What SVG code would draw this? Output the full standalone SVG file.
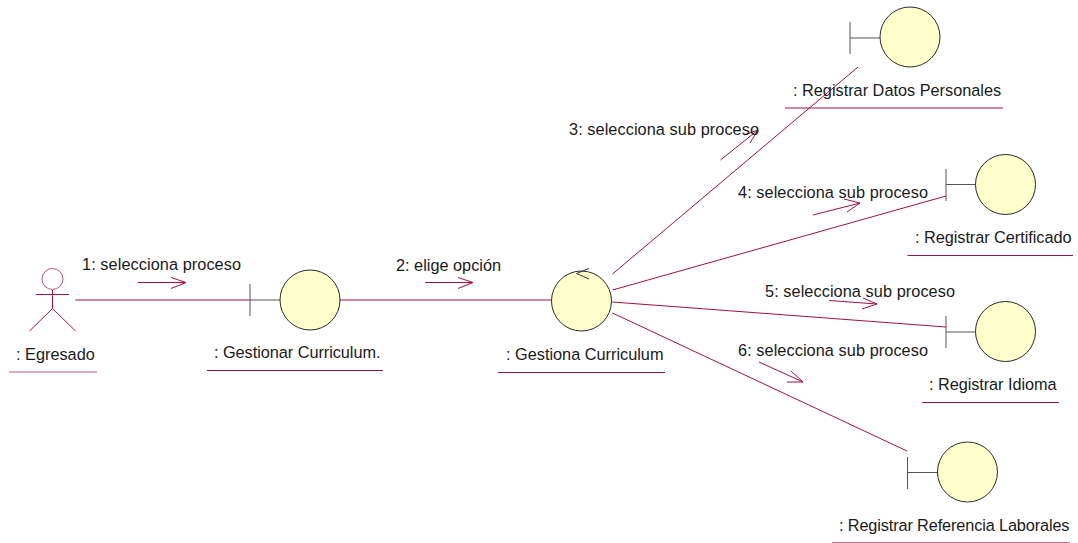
<svg xmlns="http://www.w3.org/2000/svg" width="1078" height="543" viewBox="0 0 1078 543">
<style>
text{font-family:"Liberation Sans",Arial,sans-serif;font-size:16.3px;fill:#1a1a1a}
.c{fill:#ffffcb;stroke:#2a2a2a;stroke-width:1}
.b{fill:none;stroke:#555;stroke-width:1}
.m{fill:none;stroke:#a50f41;stroke-width:1}
</style>
<rect width="1078" height="543" fill="#fff"/>
<g id="connectors" class="m">
<path d="M75.500 300H250"/>
<path d="M340 300H551"/>
<path d="M612.500 274L858 67"/>
<path d="M612.500 290L946 196"/>
<path d="M612.500 302L946 327"/>
<path d="M612.500 313L907 451"/>
<path d="M137.500 282.500H186M171 277.500L186 282.500L171 288.500"/>
<path d="M425 282.500H473M458 277.500L473 282.500L458 288.500"/>
<path d="M720.500 160L758 130M750 143L758 130L744 135"/>
<path d="M813 215L860 203M844 199L860 203L847 212"/>
<path d="M829 300.500L877 304M863 298L877 304L862 309"/>
<path d="M759 362L803 382M787 382H803L791 371"/>
</g>
<g id="egresado">
<circle cx="52.500" cy="279" r="10.500" fill="#fff" stroke="#a50f41" stroke-opacity=".7"/>
<path class="m" d="M36 294.500H69M52.500 290V308.500M29.500 331L52.500 308.500L75.500 331"/>
<text x="16" y="359.500">: Egresado</text>
<path class="m" d="M9 372H97" stroke-opacity=".7"/>
</g>
<g id="gestionar">
<path class="b" d="M250 284V316M250 300H280"/>
<circle class="c" cx="310" cy="300" r="30"/>
<text x="214" y="357.500" textLength="166.500">: Gestionar Curriculum.</text>
<path class="m" d="M207 370.500H383"/>
</g>
<g id="gestiona">
<circle class="c" cx="581.500" cy="301" r="30"/>
<path fill="none" stroke="#333" d="M589 268.500L576.500 273.500L589 279"/>
<text x="506" y="359.500">: Gestiona Curriculum</text>
<path class="m" d="M498 372.500H665"/>
</g>
<g id="datos">
<path class="b" d="M850 22V54M850 38H880"/>
<circle class="c" cx="910" cy="37" r="30"/>
<text x="793" y="95.500">: Registrar Datos Personales</text>
<path class="m" d="M785 108H1003"/>
</g>
<g id="certificado">
<path class="b" d="M946 169V201M946 184.500H976"/>
<circle class="c" cx="1005.500" cy="184.500" r="30"/>
<text x="915" y="242.500" textLength="156.500">: Registrar Certificado</text>
<path class="m" d="M907.500 255.500H1073"/>
</g>
<g id="idioma">
<path class="b" d="M946 316V348M946 332H976"/>
<circle class="c" cx="1005.500" cy="331.500" r="30"/>
<text x="929" y="389.500" textLength="127.500">: Registrar Idioma</text>
<path class="m" d="M922 402.500H1059"/>
</g>
<g id="referencia">
<path class="b" d="M907.500 457V489M907.500 472.500H938"/>
<circle class="c" cx="967.500" cy="472" r="30"/>
<text x="839" y="530.500" textLength="230.500">: Registrar Referencia Laborales</text>
<path class="m" d="M832 542.500H1070" stroke-opacity=".6"/>
</g>
<g id="labels">
<text x="82" y="269.500" textLength="159">1: selecciona proceso</text>
<text x="396" y="270.500">2: elige opción</text>
<text x="569" y="134.500" textLength="190">3: selecciona sub proceso</text>
<text x="738" y="197.500" textLength="190">4: selecciona sub proceso</text>
<text x="765" y="296.500" textLength="190">5: selecciona sub proceso</text>
<text x="738" y="355.500" textLength="190">6: selecciona sub proceso</text>
</g>
</svg>
